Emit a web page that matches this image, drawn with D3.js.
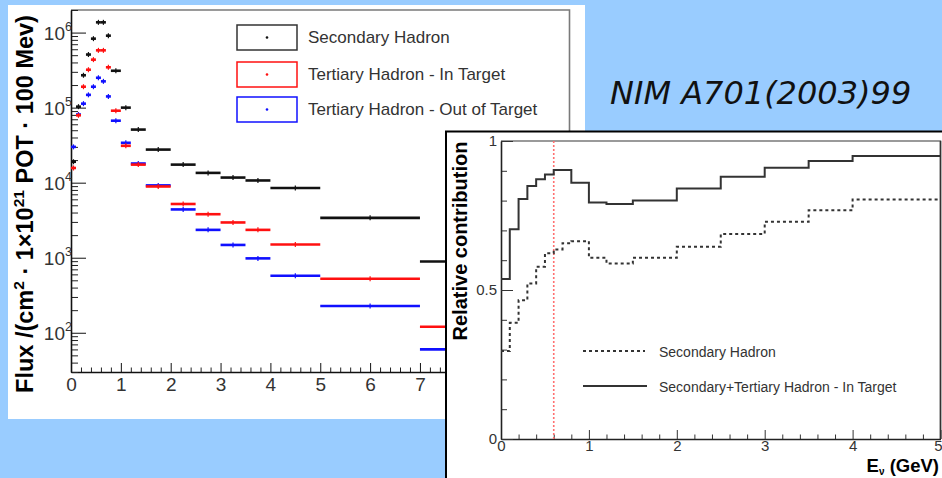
<!DOCTYPE html>
<html><head><meta charset="utf-8">
<script src="https://cdn.jsdelivr.net/npm/d3@7"></script>
<style>body{margin:0;background:#99ccff;}svg{display:block;}</style>
</head><body>
<script>
// ---------- data ----------
const binEdges = [0,0.1,0.2,0.3,0.4,0.5,0.6,0.7,0.8,1.0,1.2,1.5,2.0,2.5,3.0,3.5,4.0,5.0,7.0,10.0];
const secondaryFlux   = [1.9e4,1.03e5,2.7e5,5.1e5,8.3e5,1.37e6,1.37e6,9.1e5,3.1e5,1.0e5,5.1e4,2.76e4,1.74e4,1.35e4,1.17e4,1.07e4,8.5e3,3.4e3,890];
const tertiaryInFlux  = [1.57e4,7.9e4,1.9e5,3.2e5,4.36e5,5.8e5,5.8e5,3.45e5,9.1e4,3.1e4,1.74e4,8.9e3,5.2e3,3.8e3,2.95e3,2.35e3,1.5e3,525,120];
const tertiaryOutFlux = [3.0e4,8.1e4,1.13e5,1.48e5,1.9e5,2.5e5,2.24e5,1.41e5,6.7e4,3.4e4,1.8e4,9.2e3,4.4e3,2.35e3,1.48e3,980,575,227,60];
const fluxSeriesNames = ["Secondary Hadron","Tertiary Hadron - In Target","Tertiary Hadron - Out of Target"];
const fluxTicksX = [0,1,2,3,4,5,6,7,8,9,10];
const fluxTicksY = [1e2,1e3,1e4,1e5,1e6];

const ratioEdges = [0,0.1,0.2,0.3,0.4,0.5,0.6,0.7,0.8,1.0,1.2,1.5,2.0,2.5,3.0,3.5,4.0,5.0];
const ratioSecondary = [0.295,0.390,0.466,0.522,0.578,0.623,0.636,0.657,0.664,0.608,0.589,0.608,0.645,0.688,0.729,0.768,0.804];
const ratioSecTerIn  = [0.537,0.704,0.805,0.849,0.872,0.888,0.903,0.903,0.860,0.794,0.789,0.800,0.841,0.880,0.910,0.933,0.950];
const ratioSeriesNames = ["Secondary Hadron","Secondary+Tertiary Hadron - In Target"];
const ratioTicksX = [0,1,2,3,4,5];
const ratioTicksY = [0,0.5,1];
const markerEnergy = 0.6;
const citation = "NIM A701(2003)99";

// ---------- drawing ----------
const W=942,H=478;
const svg=d3.select("body").append("svg").attr("width",W).attr("height",H);
svg.append("rect").attr("width",W).attr("height",H).attr("fill","#99ccff");
const FONT="'Liberation Sans', Arial, Helvetica, sans-serif";

// ===== Left panel =====
const L=svg.append("g");
L.append("rect").attr("x",8).attr("y",5).attr("width",577).attr("height",414).attr("fill","#fff");
const xL=d3.scaleLinear().domain([0,10]).range([71,569.5]);
const yL=d3.scaleLog().domain([30,2e6]).range([372,10]);

// frame
L.append("path").attr("d",`M${xL(0)},${yL(2e6)}H${xL(10)}V${yL(30)}`).attr("fill","none").attr("stroke","#7a7a7a").attr("stroke-width",1.6);

// minor x ticks
const minorX=d3.range(0,10.001,0.2).filter(v=>Math.abs(v-Math.round(v))>1e-6);
const gxm=L.append("g").attr("transform",`translate(0,${yL(30)})`)
  .call(d3.axisBottom(xL).tickValues(minorX).tickSize(-4.5).tickFormat(""));
gxm.select(".domain").remove();
gxm.selectAll("line").attr("stroke","#222");
// major x axis
const gx=L.append("g").attr("transform",`translate(0,${yL(30)})`)
  .call(d3.axisBottom(xL).tickValues(fluxTicksX).tickSize(-9).tickSizeOuter(0).tickPadding(6).tickFormat(d3.format("d")));
gx.select(".domain").attr("stroke","#111").attr("stroke-width",1.6);
gx.selectAll("line").attr("stroke","#111");
gx.selectAll("text").attr("font-family",FONT).attr("font-size",19).attr("fill","#333");

// minor y ticks
const minorY=[];
for(let e=1;e<=6;e++)for(let k=2;k<=9;k++){const v=k*Math.pow(10,e);if(v>=30&&v<=2e6)minorY.push(v);}
const gym=L.append("g").attr("transform",`translate(${xL(0)},0)`)
  .call(d3.axisLeft(yL).tickValues(minorY).tickSize(-7).tickFormat(""));
gym.select(".domain").remove();
gym.selectAll("line").attr("stroke","#222");
const gy=L.append("g").attr("transform",`translate(${xL(0)},0)`)
  .call(d3.axisLeft(yL).tickValues(fluxTicksY).tickSize(-15).tickSizeOuter(0).tickFormat(""));
gy.select(".domain").attr("stroke","#111").attr("stroke-width",1.6);
gy.selectAll("line").attr("stroke","#111");
gy.selectAll(".tick").each(function(d){
  const t=d3.select(this);
  t.append("text").attr("x",-6).attr("y",7).attr("text-anchor","end")
    .attr("font-family",FONT).attr("font-size",19).attr("fill","#333").text("10");
  t.append("text").attr("x",-6).attr("y",-2).attr("text-anchor","start")
    .attr("font-family",FONT).attr("font-size",12.5).attr("fill","#333").text(Math.round(Math.log10(d)));
});

// y title
const yt=L.append("text").attr("transform","translate(33,204) rotate(-90)").attr("text-anchor","middle")
  .attr("font-family",FONT).attr("font-weight","bold").attr("font-size",23.5).attr("fill","#000");
yt.append("tspan").text("Flux /(cm");
yt.append("tspan").attr("dy",-9).attr("font-size",15.5).text("2");
yt.append("tspan").attr("dy",9).text(" · 1×10");
yt.append("tspan").attr("dy",-9).attr("font-size",15.5).text("21");
yt.append("tspan").attr("dy",9).text(" POT · 100 Mev)");

// data
const fluxSeries=[
  {vals:secondaryFlux,color:"#111"},
  {vals:tertiaryInFlux,color:"#ff1010"},
  {vals:tertiaryOutFlux,color:"#1010ff"}];
const gd=L.append("g");
[2,1,0].forEach(si=>{
  const s=fluxSeries[si];
  const g=gd.append("g");
  g.selectAll("line.h").data(s.vals).enter().append("line")
    .attr("x1",(d,i)=>xL(binEdges[i])).attr("x2",(d,i)=>xL(binEdges[i+1]))
    .attr("y1",d=>yL(d)).attr("y2",d=>yL(d))
    .attr("stroke",s.color).attr("stroke-width",2.6);
  g.selectAll("line.v").data(s.vals).enter().append("line")
    .attr("x1",(d,i)=>xL((binEdges[i]+binEdges[i+1])/2)).attr("x2",(d,i)=>xL((binEdges[i]+binEdges[i+1])/2))
    .attr("y1",d=>yL(d)-2.5).attr("y2",d=>yL(d)+2.5)
    .attr("stroke",s.color).attr("stroke-width",1.2);
});

// legend
const legY=[25,62,97];
fluxSeriesNames.forEach((n,i)=>{
  L.append("rect").attr("x",237).attr("y",legY[i]).attr("width",60).attr("height",25)
    .attr("fill","none").attr("stroke",i===0?"#333":fluxSeries[i].color).attr("stroke-width",1.5);
  L.append("circle").attr("cx",267).attr("cy",legY[i]+12.5).attr("r",1.3).attr("fill",fluxSeries[i].color);
  L.append("text").attr("x",308).attr("y",legY[i]+17.5).attr("font-family",FONT).attr("font-size",17)
    .attr("fill","#333").text(n);
});

// citation
svg.append("text").attr("x",610).attr("y",104).attr("font-family","'DejaVu Sans', sans-serif")
  .attr("font-style","italic").attr("font-size",32).attr("fill","#111").text(citation);

// ===== Right panel =====
const R=svg.append("g");
R.append("rect").attr("x",446).attr("y",131.5).attr("width",510).attr("height",360)
  .attr("fill","#fff").attr("stroke","#000").attr("stroke-width",2);
const xR=d3.scaleLinear().domain([0,5]).range([501,940.5]);
const yR=d3.scaleLinear().domain([0,1]).range([439,141]);

R.append("path").attr("d",`M${xR(0)},${yR(1)}H${xR(5)}V${yR(0)}`).attr("fill","none").attr("stroke","#7a7a7a").attr("stroke-width",1.5);
R.append("line").attr("x1",xR(5)).attr("x2",xR(5)).attr("y1",yR(1)).attr("y2",yR(0)).attr("stroke","#333").attr("stroke-width",1.5);

const rMinorX=d3.range(0,5.001,0.2).filter(v=>Math.abs(v-Math.round(v))>1e-6);
const rxm=R.append("g").attr("transform",`translate(0,${yR(0)})`)
  .call(d3.axisBottom(xR).tickValues(rMinorX).tickSize(-4.5).tickFormat(""));
rxm.select(".domain").remove(); rxm.selectAll("line").attr("stroke","#333");
const rx=R.append("g").attr("transform",`translate(0,${yR(0)})`)
  .call(d3.axisBottom(xR).tickValues(ratioTicksX).tickSize(-9).tickSizeOuter(0).tickPadding(1.5).tickFormat(d3.format("d")));
rx.select(".domain").attr("stroke","#222").attr("stroke-width",1.6);
rx.selectAll("line").attr("stroke","#333");
rx.selectAll("text").attr("font-family",FONT).attr("font-size",15).attr("fill","#333");
// keep the last label inside the window
rx.selectAll("text").filter(d=>d===5).attr("text-anchor","end").attr("x",1.5);

const rMinorY=d3.range(0,1.001,0.1).filter(v=>Math.abs(v*2-Math.round(v*2))>1e-6);
const rym=R.append("g").attr("transform",`translate(${xR(0)},0)`)
  .call(d3.axisLeft(yR).tickValues(rMinorY).tickSize(-6).tickFormat(""));
rym.select(".domain").remove(); rym.selectAll("line").attr("stroke","#333");
const ry=R.append("g").attr("transform",`translate(${xR(0)},0)`)
  .call(d3.axisLeft(yR).tickValues(ratioTicksY).tickSize(-12).tickSizeOuter(0).tickPadding(4).tickFormat(d=>d===0?"0":d===1?"1":"0.5"));
ry.select(".domain").attr("stroke","#222").attr("stroke-width",1.6);
ry.selectAll("line").attr("stroke","#333");
ry.selectAll("text").attr("font-family",FONT).attr("font-size",15).attr("fill","#333");

// marker line
R.append("line").attr("x1",xR(markerEnergy)).attr("x2",xR(markerEnergy)).attr("y1",yR(1)).attr("y2",yR(0))
  .attr("stroke","#ff7070").attr("stroke-width",1.6).attr("stroke-dasharray","2,2");

// step lines
const step=d3.line().x(d=>xR(d[0])).y(d=>yR(d[1])).curve(d3.curveStepAfter);
const pts=v=>ratioEdges.map((e,i)=>[e,v[Math.min(i,v.length-1)]]);
R.append("path").attr("d",step(pts(ratioSecondary))).attr("fill","none").attr("stroke","#333")
  .attr("stroke-width",2).attr("stroke-dasharray","3,3");
R.append("path").attr("d",step(pts(ratioSecTerIn))).attr("fill","none").attr("stroke","#333")
  .attr("stroke-width",2);

// legend
R.append("line").attr("x1",583).attr("x2",645).attr("y1",351).attr("y2",351).attr("stroke","#333").attr("stroke-width",2).attr("stroke-dasharray","3,3");
R.append("line").attr("x1",583).attr("x2",647).attr("y1",386).attr("y2",386).attr("stroke","#333").attr("stroke-width",2);
R.append("text").attr("x",659).attr("y",356.5).attr("font-family",FONT).attr("font-size",14).attr("fill","#333").text(ratioSeriesNames[0]);
R.append("text").attr("x",659).attr("y",391.5).attr("font-family",FONT).attr("font-size",14).attr("fill","#333").text(ratioSeriesNames[1]);

// titles
R.append("text").attr("transform","translate(467,241) rotate(-90)").attr("text-anchor","middle")
  .attr("font-family",FONT).attr("font-weight","bold").attr("font-size",20).attr("fill","#000").text("Relative contribution");
const xt=R.append("text").attr("x",939).attr("y",471.5).attr("text-anchor","end")
  .attr("font-family",FONT).attr("font-weight","bold").attr("font-size",18.5).attr("fill","#000");
xt.append("tspan").text("E");
xt.append("tspan").attr("dy",3).attr("font-size",10).text("ν");
xt.append("tspan").attr("dy",-3).text(" (GeV)");
</script>
</body></html>
